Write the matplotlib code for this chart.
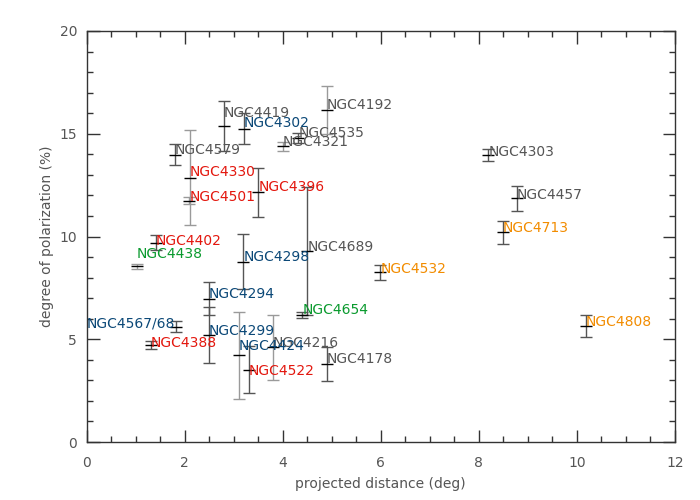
import numpy as np
import matplotlib
matplotlib.use("Agg")
import matplotlib.pyplot as plt
from matplotlib.ticker import MultipleLocator

# ---------- data ----------
names = ["NGC4192", "NGC4419", "NGC4302", "NGC4535", "NGC4321", "NGC4579",
         "NGC4303", "NGC4330", "NGC4396", "NGC4501", "NGC4457", "NGC4713",
         "NGC4402", "NGC4689", "NGC4438", "NGC4298", "NGC4532", "NGC4294",
         "NGC4654", "NGC4567/68", "NGC4808", "NGC4299", "NGC4388", "NGC4216",
         "NGC4424", "NGC4178", "NGC4522"]
dist = [4.90, 2.80, 3.20, 4.30, 4.00, 1.80,
        8.18, 2.10, 3.50, 2.08, 8.78, 8.49,
        1.41, 4.50, 1.02, 3.18, 5.98, 2.49,
        4.40, 1.82, 10.18, 2.49, 1.30, 3.80,
        3.10, 4.90, 3.31]
pol = [16.15, 15.37, 15.25, 14.80, 14.40, 13.97,
       13.95, 12.86, 12.15, 11.75, 11.85, 10.20,
       9.70, 9.30, 8.55, 8.78, 8.25, 6.98,
       6.20, 5.60, 5.66, 5.20, 4.73, 4.60,
       4.22, 3.80, 3.52]
pol_err = [1.17, 1.20, 0.75, 0.25, 0.22, 0.51,
           0.30, 2.32, 1.20, 0.15, 0.63, 0.55,
           0.35, 3.10, 0.12, 1.32, 0.37, 0.80,
           0.15, 0.27, 0.54, 1.35, 0.20, 1.58,
           2.12, 0.83, 1.15]
# "light" = lighter grey error bar, "dark" = darker one
bar_tone = ["light", "dark", "dark", "dark", "light", "dark",
            "dark", "light", "dark", "light", "dark", "dark",
            "dark", "dark", "light", "dark", "dark", "dark",
            "dark", "dark", "dark", "dark", "dark", "light",
            "light", "dark", "dark"]
group = ["gray", "gray", "blue", "gray", "gray", "gray",
         "gray", "red", "red", "red", "gray", "orange",
         "red", "gray", "green", "blue", "orange", "blue",
         "green", "blue", "orange", "blue", "red", "gray",
         "blue", "gray", "red"]

# label anchor (left edge, vertical centre), in data units
label_x = [4.90, 2.80, 3.20, 4.33, 4.00, 1.80,
           8.20, 2.10, 3.51, 2.10, 8.78, 8.49,
           1.41, 4.51, 1.02, 3.20, 6.00, 2.49,
           4.41, 0.00, 10.18, 2.49, 1.31, 3.80,
           3.10, 4.90, 3.31]
label_y = [16.39, 16.00, 15.51, 15.02, 14.59, 14.22,
           14.10, 13.12, 12.39, 11.93, 12.00, 10.39,
           9.76, 9.49, 9.17, 8.98, 8.44, 7.20,
           6.41, 5.76, 5.85, 5.39, 4.80, 4.80,
           4.66, 4.05, 3.46]

text_colors = {"gray": "#555555", "red": "#e3170e", "blue": "#0b4877",
               "green": "#0a9a2e", "orange": "#f28c00"}
bar_colors = {"dark": "#555555", "light": "#9a9a9a"}

# ---------- plot ----------
plt.rcParams["font.family"] = "DejaVu Sans"
fig = plt.figure(figsize=(7, 5), dpi=100)
ax = fig.add_axes([0.124, 0.116, 0.840, 0.822])

for i in range(len(names)):
    ax.errorbar(dist[i], pol[i], yerr=pol_err[i], fmt="none",
                ecolor=bar_colors[bar_tone[i]], elinewidth=1.0,
                capsize=4, capthick=1.0, zorder=2)
    ax.plot(dist[i], pol[i], marker="_", markersize=9, markeredgewidth=1.0,
            color="black", linestyle="none", zorder=3)
    ax.text(label_x[i], label_y[i], names[i], color=text_colors[group[i]],
            fontsize=10, ha="left", va="center", zorder=4)

ax.set_xlim(0, 12)
ax.set_ylim(0, 20)
ax.xaxis.set_major_locator(MultipleLocator(2))
ax.xaxis.set_minor_locator(MultipleLocator(0.5))
ax.yaxis.set_major_locator(MultipleLocator(5))
ax.yaxis.set_minor_locator(MultipleLocator(1))
ax.tick_params(which="both", direction="in", top=True, right=True,
               colors="#333333", labelcolor="#555555", labelsize=10)
ax.tick_params(axis="x", which="both", pad=10)
ax.tick_params(axis="y", which="both", pad=7)
ax.tick_params(which="major", length=9, width=1)
ax.tick_params(which="minor", length=4.5, width=1)
for s in ax.spines.values():
    s.set_color("#333333")
    s.set_linewidth(1.0)

ax.set_xlabel("projected distance (deg)", color="#555555", fontsize=10, labelpad=5)
ax.set_ylabel("degree of polarization (%)", color="#555555", fontsize=10)

fig.savefig("out.png", dpi=100)
